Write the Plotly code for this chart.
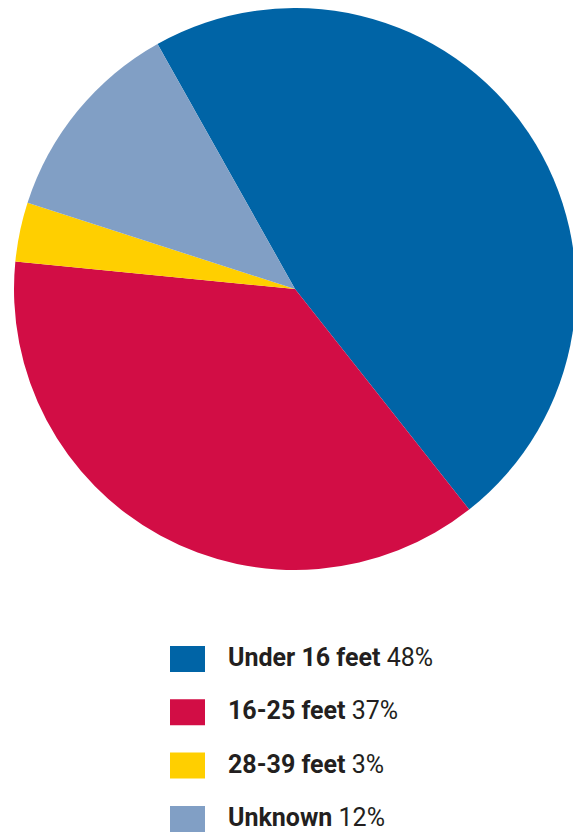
import plotly.graph_objects as go

categories = ["Under 16 feet", "16-25 feet", "28-39 feet", "Unknown"]
values = [47.5, 37.2, 3.4, 11.9]          # slice sizes as drawn
pct_labels = [48, 37, 3, 12]              # rounded percentages shown in legend
colors = ["#0064A6", "#D20D45", "#FFCF00", "#819FC5"]

# The page body adds an 8px margin; lay out in screen pixels and shift.
OFF = 8
W, H = 581 - OFF, 833 - OFF


def px(x):
    return (x - OFF) / W


def py(y):
    return 1 - (y - OFF) / H


fig = go.Figure(go.Pie(
    labels=categories,
    values=values,
    sort=False,
    direction="clockwise",
    rotation=-29.3,
    marker=dict(colors=colors, line=dict(width=0)),
    textinfo="none",
    hoverinfo="label",
    showlegend=False,
    domain=dict(x=[px(14), px(576)], y=[py(570), py(8)]),
))

# custom legend
square_y = [659, 712.3, 765.6, 819]
text_y = [657.5, 710.8, 764.1, 817.4]
shapes = []
annotations = []
for cat, val, col, ys, yt in zip(categories, pct_labels, colors, square_y, text_y):
    shapes.append(dict(type="rect", xref="paper", yref="paper",
                       x0=px(170), x1=px(205),
                       y0=py(ys + 13), y1=py(ys - 13),
                       fillcolor=col, line=dict(width=0)))
    annotations.append(dict(xref="paper", yref="paper", x=px(226), y=py(yt),
                            xanchor="left", yanchor="middle", showarrow=False,
                            text=f"<b>{cat}</b> {val}%",
                            font=dict(family="Roboto, Arial", size=25, color="#231F20")))

fig.update_layout(
    width=W, height=H,
    margin=dict(l=0, r=0, t=0, b=0),
    paper_bgcolor="white", plot_bgcolor="white",
    shapes=shapes, annotations=annotations,
)

fig.write_html("out.html")
